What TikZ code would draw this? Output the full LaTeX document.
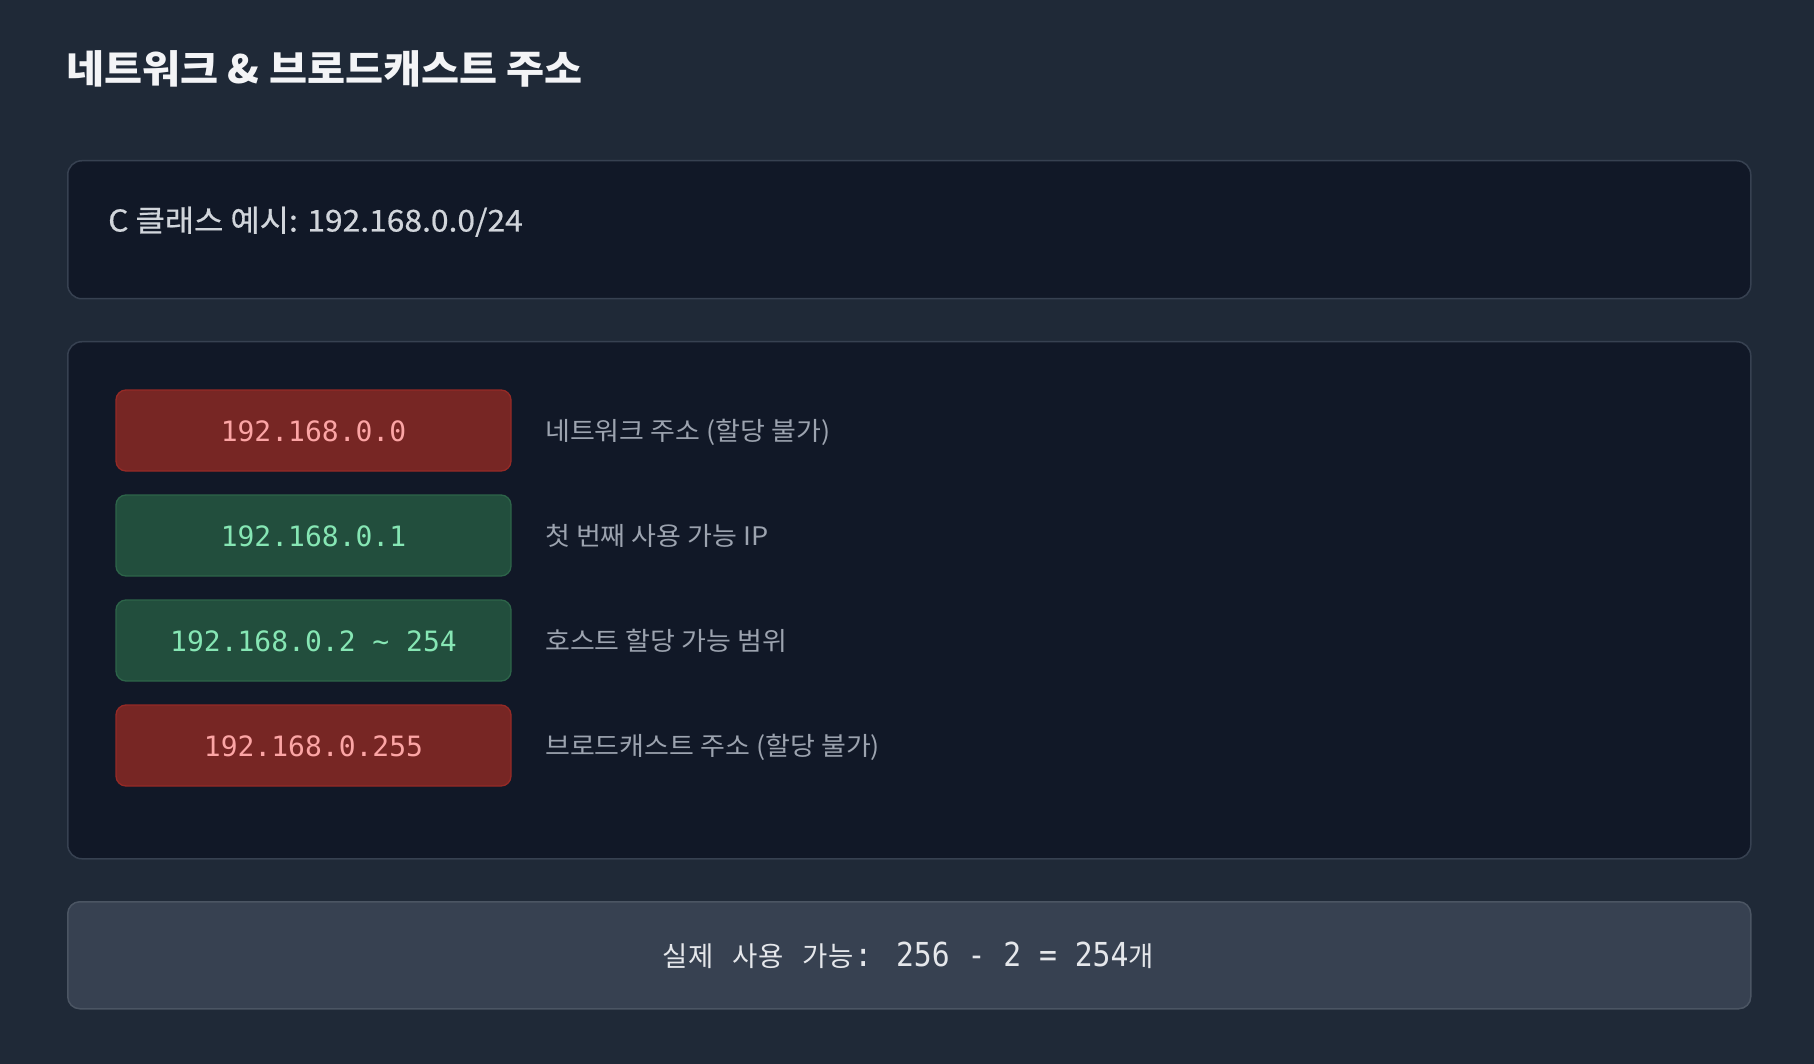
\documentclass[tikz,border=0pt]{standalone}
\usepackage{fontspec}
\setmainfont{Noto Sans CJK KR}[FakeStretch=1.06]
\newfontfamily\kr{Noto Sans CJK KR}[FakeStretch=1.06]
\newfontfamily\krplain{Noto Sans CJK KR}
\newfontfamily\krsemi{Noto Sans CJK KR}[FakeStretch=1.06,FakeBold=0.6]
\newfontfamily\mono{DejaVu Sans Mono}
\newfontfamily\monotall{DejaVu Sans Mono}[FakeStretch=0.9]
\definecolor{bg}{HTML}{1F2937}
\definecolor{panelfill}{HTML}{111827}
\definecolor{panelline}{HTML}{374151}
\definecolor{sumfill}{HTML}{374151}
\definecolor{sumline}{HTML}{4B5563}
\definecolor{redfill}{HTML}{772624}
\definecolor{redline}{HTML}{952A26}
\definecolor{redtext}{HTML}{FCA5A5}
\definecolor{grnfill}{HTML}{224E3D}
\definecolor{grnline}{HTML}{2D6449}
\definecolor{grntext}{HTML}{86E6B4}
\definecolor{titletext}{HTML}{F3F4F6}
\definecolor{subtext}{HTML}{D1D5DB}
\definecolor{labtext}{HTML}{9CA3AF}
\definecolor{sumtext}{HTML}{E5E7EB}
\newcommand\kc[1]{\makebox[26pt]{\krplain\fontsize{27.5}{28}\selectfont #1}}
\begin{document}
\begin{tikzpicture}[x=1pt,y=-1pt,
  panel/.style={draw=panelline, fill=panelfill, line width=1.5pt, rounded corners=14pt, minimum width=1683pt, inner sep=0pt},
  sumpanel/.style={draw=sumline, fill=sumfill, line width=1.5pt, rounded corners=12pt, minimum width=1683pt, inner sep=0pt},
  rowbox/.style={line width=1.3pt, rounded corners=10pt, minimum width=395pt, minimum height=81pt, inner sep=0pt},
  redbox/.style={rowbox, draw=redline, fill=redfill},
  grnbox/.style={rowbox, draw=grnline, fill=grnfill},
  addr/.style={inner sep=0pt, anchor=base, font=\mono\fontsize{28}{32}\selectfont},
  lab/.style={inner sep=0pt, anchor=base west, text=labtext, font=\kr\fontsize{25.5}{30}\selectfont}
]
\useasboundingbox[fill=bg] (0,0) rectangle (1814,1064);

\node[inner sep=0pt, anchor=base west, text=titletext, font=\bfseries\fontsize{39}{46}\selectfont] (title) at (66,84) {네트워크 \& 브로드캐스트 주소};

\node[panel, minimum height=138pt, anchor=north west] (expanel) at (67,160) {};
\node[inner sep=0pt, anchor=base west, text=subtext, font=\krsemi\fontsize{30}{36}\selectfont] (extext) at (108,231.5) {C 클래스 예시: 192.168.0.0/24};

\node[panel, minimum height=517pt, anchor=north west] (listpanel) at (67,341) {};

\node[redbox] (r1) at (313.5,430.5) {};
\node[grnbox] (r2) at (313.5,535.5) {};
\node[grnbox] (r3) at (313.5,640.5) {};
\node[redbox] (r4) at (313.5,745.5) {};

\node[addr, text=redtext] (a1) at (313.5,441) {192.168.0.0};
\node[addr, text=grntext] (a2) at (313.5,546) {192.168.0.1};
\node[addr, text=grntext] (a3) at (313.5,651) {192.168.0.2 \textasciitilde{} 254};
\node[addr, text=redtext] (a4) at (313.5,756) {192.168.0.255};

\node[lab] (l1) at (545,440.5) {네트워크 주소 (할당 불가)};
\node[lab] (l2) at (545,545.5) {첫 번째 사용 가능 IP};
\node[lab] (l3) at (545,650.5) {호스트 할당 가능 범위};
\node[lab] (l4) at (545,755.5) {브로드캐스트 주소 (할당 불가)};

\node[sumpanel, minimum height=107pt, anchor=north west] (sumpanel) at (67,901) {};
\node[inner sep=0pt, anchor=base, text=sumtext, font=\monotall\fontsize{33}{38}\selectfont] (sumtext) at (908.5,966) {\kc{실}\kc{제} \kc{사}\kc{용} \kc{가}\kc{능}: 256 - 2 = 254\kc{개}};
\end{tikzpicture}
\end{document}
